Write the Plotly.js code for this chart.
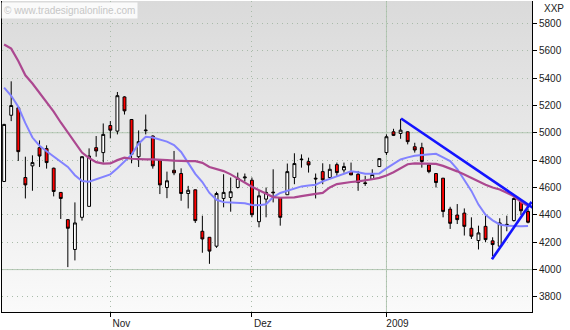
<!DOCTYPE html>
<html><head><meta charset="utf-8">
<script src="https://cdn.plot.ly/plotly-3.0.1.min.js"></script>
<style>
html,body{margin:0;padding:0;background:#fff;}
#wrap{position:relative;width:570px;height:330px;}
#bg{position:absolute;left:2px;top:1px;width:530px;height:311px;background:linear-gradient(#dadada,#fafafa);}
#chart{position:absolute;left:0;top:0;width:570px;height:330px;}
</style></head><body>
<div id="wrap"><div id="bg"></div><div id="chart"></div></div>
<script>
// Daily candles (trading-day index 0..74), DAX-like index "XXP"
const openV  = [4644,5128,5182,4673,4758,4891,4884,4741,4564,4365,4147,4382,4462,4891,4855,5053,5012,5262,5097,4825,5015,4976,4801,4600,4726,4702,4556,4583,4280,4236,4171,4520,4527,4600,4670,4653,4350,4515,4566,4527,4547,4673,4808,4789,4668,4716,4673,4767,4728,4716,4697,4634,4660,4753,4855,5007,4995,5007,4898,4891,4765,4702,4668,4442,4399,4413,4302,4212,4316,4210,4171,4325,4358,4496,4425];
const highV  = [5065,5376,5187,4825,4835,4944,4908,4745,4566,4368,4491,4828,4886,4976,5068,5085,5298,5267,5100,5017,5133,4981,4804,4716,4867,4740,4612,4585,4394,4236,4569,4697,4673,4709,4702,4673,4576,4600,4733,4530,4775,4850,4842,4818,4702,4777,4770,4782,4782,4782,4721,4685,4733,4814,4988,5029,5102,5010,4927,4927,4767,4704,4670,4459,4479,4447,4382,4321,4394,4236,4375,4394,4527,4510,4442];
const lowV   = [4640,5085,4794,4520,4576,4750,4738,4535,4370,4018,4067,4358,4462,4825,4782,4959,4988,5133,4777,4750,4988,4738,4552,4522,4690,4503,4447,4341,4123,4042,4159,4455,4423,4593,4644,4382,4309,4382,4491,4321,4545,4624,4745,4709,4520,4624,4661,4685,4709,4692,4576,4612,4655,4750,4838,4976,4956,4915,4855,4745,4704,4600,4382,4297,4333,4249,4224,4147,4200,4098,4168,4280,4351,4399,4338];
const closeV = [5061,5199,4862,4619,4782,4830,4782,4571,4520,4302,4341,4825,4830,4867,4988,5019,5271,5160,4842,4935,5019,4758,4619,4649,4707,4556,4580,4358,4224,4135,4556,4564,4569,4668,4676,4401,4539,4564,4562,4382,4716,4775,4804,4765,4663,4656,4733,4709,4753,4692,4636,4629,4695,4811,4971,4981,5019,4935,4874,4790,4716,4636,4425,4338,4365,4316,4244,4268,4219,4183,4341,4330,4520,4430,4346];
// Moving averages
const maFast = [5330,5270,5190,5070,4965,4905,4865,4828,4790,4750,4690,4648,4642,4660,4680,4696,4740,4790,4840,4920,4970,4965,4952,4935,4910,4860,4780,4700,4640,4560,4510,4493,4490,4489,4485,4472,4470,4477,4530,4560,4575,4595,4608,4614,4620,4645,4665,4683,4700,4719,4712,4700,4700,4703,4740,4775,4805,4820,4832,4838,4844,4846,4820,4793,4735,4650,4575,4475,4400,4360,4330,4320,4316,4317,4318];
const maSlow = [5645,5615,5525,5420,5360,5290,5220,5155,5075,5000,4930,4855,4815,4785,4774,4776,4800,4818,4810,4806,4805,4805,4805,4800,4796,4793,4793,4793,4780,4750,4735,4720,4696,4665,4630,4605,4580,4555,4530,4525,4525,4528,4537,4547,4553,4560,4600,4625,4635,4640,4645,4651,4660,4670,4688,4712,4740,4770,4776,4776,4775,4772,4758,4740,4718,4695,4668,4645,4620,4600,4585,4562,4535,4495,4465];
// Trend lines (day index, value)
const trendDownX = [56.07, 75.0];
const trendDownY = [5104, 4440];
const trendUpX   = [68.9, 74.5];
const trendUpY   = [4075, 4495];
// Axis ticks
const monthTickPos  = [15, 35, 54];
const monthTickText = ['Nov', 'Dez', '2009'];
const priceTicks = [3800,4000,4200,4400,4600,4800,5000,5200,5400,5600,5800];

const day = openV.map((_, i) => i);

const traces = [
  {type:'scatter', mode:'lines', x:day, y:maFast, line:{color:'#8282ff', width:2}, hoverinfo:'skip'},
  {type:'scatter', mode:'lines', x:day, y:maSlow, line:{color:'#ac4890', width:2.2}, hoverinfo:'skip'},
  {type:'candlestick', x:day, open:openV, high:highV, low:lowV, close:closeV,
    increasing:{line:{color:'#000', width:1}, fillcolor:'#ffffff'},
    decreasing:{line:{color:'#000', width:1}, fillcolor:'#ff0000'},
    whiskerwidth:0},
  {type:'scatter', mode:'lines', x:trendDownX, y:trendDownY, line:{color:'#1414ff', width:2.6}, hoverinfo:'skip'},
  {type:'scatter', mode:'lines', x:trendUpX, y:trendUpY, line:{color:'#1414ff', width:2.6}, hoverinfo:'skip'}
];

const gridSolid = '#b3c8b3';
const shapes = [
  {type:'line', xref:'paper', x0:0, x1:1, yref:'y', y0:4000, y1:4000, line:{color:gridSolid, width:1}, layer:'below'},
  {type:'line', xref:'paper', x0:0, x1:1, yref:'y', y0:5000, y1:5000, line:{color:gridSolid, width:1}, layer:'below'},
  {type:'line', xref:'x', x0:monthTickPos[2], x1:monthTickPos[2], yref:'paper', y0:0, y1:1, line:{color:gridSolid, width:1}, layer:'below'}
];

const layout = {
  width:570, height:330,
  margin:{l:2, r:38, t:1, b:18},
  paper_bgcolor:'rgba(0,0,0,0)', plot_bgcolor:'rgba(0,0,0,0)',
  showlegend:false,
  boxgap:0.42,
  font:{family:'Liberation Sans, Arial, sans-serif', size:10, color:'#222'},
  xaxis:{
    range:[-0.3, 74.56], rangeslider:{visible:false},
    tickmode:'array', tickvals:monthTickPos, ticktext:monthTickText,
    ticks:'outside', ticklen:4, tickcolor:'#000', tickwidth:1,
    ticklabelshift:11, ticklabelstandoff:-2,
    showgrid:true, gridcolor:'#a9bba9', griddash:'1px,4px', gridwidth:1,
    showline:true, linecolor:'#000', linewidth:1, mirror:false,
    zeroline:false, fixedrange:true
  },
  yaxis:{
    side:'right', range:[3690, 5963],
    tickmode:'array', tickvals:priceTicks,
    ticks:'outside', ticklen:4, tickcolor:'#000', tickwidth:1,
    showgrid:true, gridcolor:'#a9bba9', griddash:'1px,4px', gridwidth:1,
    showline:true, linecolor:'#000', linewidth:1, mirror:true,
    zeroline:false, fixedrange:true
  },
  shapes:shapes,
  annotations:[
    {xref:'paper', yref:'paper', x:0, y:0.997, xanchor:'left', yanchor:'top', showarrow:false, xshift:-1,
     text:'© www.tradesignalonline.com', font:{family:'Liberation Sans, Arial, sans-serif', size:10, color:'#c6c6c6'},
     bgcolor:'rgba(255,255,255,0.85)', borderpad:2},
    {xref:'paper', yref:'paper', x:1, y:1, xanchor:'left', yanchor:'top', xshift:10, yshift:0, showarrow:false,
     text:'XXP', font:{family:'Liberation Sans, Arial, sans-serif', size:10, color:'#222'}}
  ]
};

Plotly.newPlot('chart', traces, layout, {staticPlot:true, displayModeBar:false});
</script>
</body></html>
